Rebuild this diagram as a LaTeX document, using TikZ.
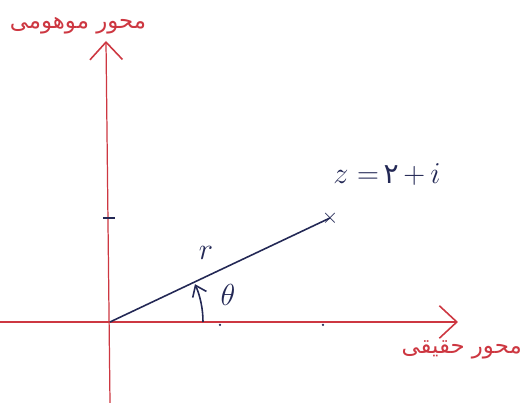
\documentclass[tikz,border=0pt]{standalone}
\usepackage{fontspec}
\newfontfamily\arabicfont[Script=Arabic]{DejaVu Sans}
\TeXXeTstate=1
\usepackage{xcolor}
\usetikzlibrary{arrows.meta}
\definecolor{axisred}{RGB}{205,55,65}
\definecolor{inkblue}{RGB}{35,40,85}
\tikzset{
  axis/.style={draw=axisred, line width=0.7pt, -{Straight Barb[length=3.5mm,width=6.5mm,line width=0.9pt]}},
  ink/.style={text=inkblue, font=\fontsize{16}{18}\selectfont},
  fa/.style={text=axisred, font=\arabicfont\fontsize{13}{16}\selectfont}
}

\begin{document}
\begin{tikzpicture}
      \useasboundingbox (-2.2,-1.62) rectangle (8.38,6.44);
      \coordinate (O) at (0,0);
      \coordinate (ybot) at (0,-1.62);
      \coordinate (ytop) at (-0.08,5.62);
      \coordinate (xleft) at (-2.2,0);
      \coordinate (xright) at (6.96,0);
      \coordinate (a0) at (1.86,0);

      \draw[axis] (ybot) to (ytop);
      \draw[axis] (xleft) to (xright);

      % ticks
      \coordinate (t1) at (-0.14,2.08);
      \coordinate (t2) at (0.1,2.08);
      \draw[inkblue, line width=0.7pt] (t1) to (t2);
      \fill[inkblue] (2.2,-0.06) circle (0.025);
      \fill[inkblue] (4.26,-0.06) circle (0.025);

      \node[inkblue, inner sep=0pt, font=\large] (z) at (4.4,2.08) {$\times$};
      \draw[inkblue, line width=0.9pt] (O) to (z.center);
      \draw[inkblue, line width=0.9pt, -{Straight Barb[length=2mm,width=3mm]}] (a0) arc[start angle=0, end angle=24, radius=1.86];

      \node[ink] (zlabel) at (5.54,2.94) {$z=$\,{\arabicfont ۲}\,$+\,i$};
      \node[ink] (r) at (1.92,1.38) {$r$};
      \node[ink] (theta) at (2.36,0.54) {$\theta$};

      \node[fa] (imag) at (-0.64,5.92) {\beginR محور موهومی\endR};
      \node[fa, anchor=east] (real) at (8.36,-0.56) {\beginR محور حقیقی\endR};
    \end{tikzpicture}
\end{document}
